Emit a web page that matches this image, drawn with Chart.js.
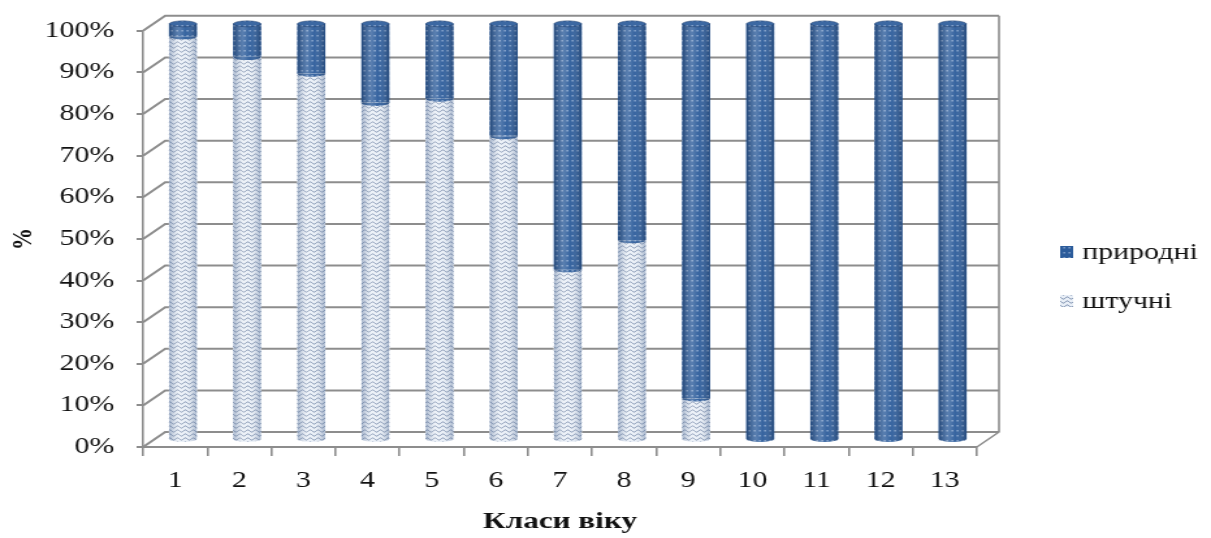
<!DOCTYPE html>
<html>
<head>
<meta charset="utf-8">
<script src="https://cdn.jsdelivr.net/npm/chart.js@4"></script>
<style>
  body { margin: 0; background: #fff; }
</style>
</head>
<body>
<!-- drawn narrow and widened by css, the old figure was stretched the same way -->
<canvas id="chart" width="931" height="538" style="width:1211px;height:538px"></canvas>
<script>
// age classes
const classes = ['1', '2', '3', '4', '5', '6', '7', '8', '9', '10', '11', '12', '13'];
// share of stands by origin, %
const shtuchni = [97, 92, 88, 81, 82, 73, 41, 48, 10, 0, 0, 0, 0];
const pryrodni = [3, 8, 12, 19, 18, 27, 59, 52, 90, 100, 100, 100, 100];
const yMax = 100;
const yStep = 10;

const GRAY = '#8d8d8d';
const FONT = "'Liberation Serif', 'Times New Roman', serif";
const DEPTH_X = 17, DEPTH_Y = -15;  // back wall offset
const BAR_DX = 6, BAR_DY = -7;      // cylinders stand halfway back
const RY = 3;                       // ellipse height of cylinder ends

const canvas = document.getElementById('chart');
const c2d = canvas.getContext('2d');

// wavy texture for штучні
function wavePattern() {
  const w = 6, h = 4;
  const t = document.createElement('canvas');
  t.width = w; t.height = h;
  const g = t.getContext('2d');
  g.fillStyle = '#e9eff7';
  g.fillRect(0, 0, w, h);
  g.strokeStyle = '#6a7fa2';
  g.lineWidth = 0.9;
  g.beginPath();
  for (let i = 0; i <= 12; i++) {
    const px = i / 2, py = 2 + Math.sin(px / w * 2 * Math.PI) * 1.1;
    if (i) g.lineTo(px, py); else g.moveTo(px, py);
  }
  g.stroke();
  return c2d.createPattern(t, 'repeat');
}

// dotted texture for природні
function dotPattern() {
  const t = document.createElement('canvas');
  t.width = 4; t.height = 5;
  const g = t.getContext('2d');
  g.fillStyle = '#2c5c9b';
  g.fillRect(0, 0, 4, 5);
  g.fillStyle = '#8eaad2';
  g.fillRect(1.5, 2, 1.3, 1.5);
  return c2d.createPattern(t, 'repeat');
}

const waves = wavePattern();
const dots = dotPattern();

function shade(ctx, left, w, light) {
  const g = ctx.createLinearGradient(left, 0, left + w, 0);
  const edge = light ? 'rgba(85,110,150,0.45)' : 'rgba(20,35,60,0.35)';
  g.addColorStop(0, edge);
  g.addColorStop(0.35, 'rgba(255,255,255,0.22)');
  g.addColorStop(0.6, 'rgba(255,255,255,0.05)');
  g.addColorStop(1, edge);
  return g;
}

const box3d = {
  id: 'box3d',
  beforeDatasetsDraw(chart) {
    const {ctx, chartArea: a, scales: {y}} = chart;
    ctx.save();
    ctx.strokeStyle = GRAY;
    ctx.lineWidth = 2;
    for (let v = 0; v <= yMax; v += yStep) {
      const py = y.getPixelForValue(v);
      ctx.beginPath();
      ctx.moveTo(a.left, py);
      ctx.lineTo(a.left + DEPTH_X, py + DEPTH_Y);
      ctx.lineTo(a.right + DEPTH_X, py + DEPTH_Y);
      ctx.stroke();
    }
    ctx.lineWidth = 1.6;
    ctx.beginPath();
    ctx.moveTo(a.right + DEPTH_X, y.getPixelForValue(yMax) + DEPTH_Y);
    ctx.lineTo(a.right + DEPTH_X, a.bottom + DEPTH_Y);
    ctx.lineTo(a.right, a.bottom);
    ctx.stroke();
    ctx.restore();

    ctx.save();
    ctx.translate(BAR_DX, BAR_DY);
  },
  afterDatasetsDraw(chart) {
    const ctx = chart.ctx;
    const last = chart.data.datasets.length - 1;
    chart.data.datasets.forEach((ds, i) => {
      chart.getDatasetMeta(i).data.forEach(bar => {
        const p = bar.getProps(['x', 'y', 'base', 'width'], true);
        const h = p.base - p.y;
        if (h < 0.5) return;
        const rx = p.width / 2, left = p.x - rx;
        // rounded bottom
        ctx.fillStyle = ds.backgroundColor;
        ctx.beginPath();
        ctx.ellipse(p.x, p.base, rx, RY, 0, 0, Math.PI);
        ctx.fill();
        // cylinder shading
        ctx.fillStyle = shade(ctx, left, p.width, i === 0);
        ctx.fillRect(left, p.y, p.width, h);
        ctx.beginPath();
        ctx.ellipse(p.x, p.base, rx, RY, 0, 0, Math.PI);
        ctx.fill();
        // top lid
        if (i === last) {
          ctx.fillStyle = ds.backgroundColor;
          ctx.beginPath();
          ctx.ellipse(p.x, p.y, rx, RY, 0, 0, Math.PI * 2);
          ctx.fill();
          ctx.fillStyle = 'rgba(255,255,255,0.08)';
          ctx.fill();
          ctx.strokeStyle = 'rgba(25,50,90,0.5)';
          ctx.lineWidth = 0.8;
          ctx.stroke();
        }
      });
    });
    ctx.restore();
  },
  afterDraw(chart) {
    // legend on the right, top series first
    const ctx = chart.ctx;
    const rows = [
      {ds: chart.data.datasets[1], y: 252},
      {ds: chart.data.datasets[0], y: 301}
    ];
    ctx.save();
    ctx.font = '23px ' + FONT;
    ctx.textBaseline = 'middle';
    rows.forEach(r => {
      ctx.fillStyle = r.ds.backgroundColor;
      ctx.fillRect(815, r.y - 6, 10, 12);
      ctx.fillStyle = '#111';
      ctx.fillText(r.ds.label, 832, r.y + 1);
    });
    ctx.restore();
  }
};

new Chart(canvas, {
  type: 'bar',
  data: {
    labels: classes,
    datasets: [
      {label: 'штучні', data: shtuchni, backgroundColor: waves, borderWidth: 0, barThickness: 21, clip: false},
      {label: 'природні', data: pryrodni, backgroundColor: dots, borderWidth: 0, barThickness: 21, clip: false}
    ]
  },
  options: {
    responsive: false,
    devicePixelRatio: 1,
    animation: false,
    layout: {padding: {top: 27, right: 180, left: 0, bottom: 0}},
    plugins: {
      legend: {display: false},
      tooltip: {enabled: false}
    },
    scales: {
      x: {
        stacked: true,
        afterFit: s => { s.height = 91; },
        grid: {drawOnChartArea: false, drawTicks: true, tickLength: 9, color: GRAY, lineWidth: 1.6},
        border: {color: GRAY, width: 2},
        ticks: {color: '#111', padding: 11, font: {family: FONT, size: 23}},
        title: {display: true, text: 'Класи віку', color: '#111', padding: {top: 0, bottom: 2},
                font: {family: FONT, size: 24, weight: 'bold'}}
      },
      y: {
        stacked: true,
        min: 0,
        max: yMax,
        afterFit: s => { s.width = 110; },
        grid: {drawOnChartArea: false, drawTicks: true, tickLength: 5, color: GRAY, lineWidth: 2},
        border: {color: GRAY, width: 1.6},
        ticks: {stepSize: yStep, color: '#111', padding: 17, font: {family: FONT, size: 23},
                callback: v => v + '%'},
        title: {display: true, text: '%', color: '#111', padding: {top: 5, bottom: 0},
                font: {family: FONT, size: 22, weight: 'bold'}}
      }
    }
  },
  plugins: [box3d]
});
</script>
</body>
</html>
